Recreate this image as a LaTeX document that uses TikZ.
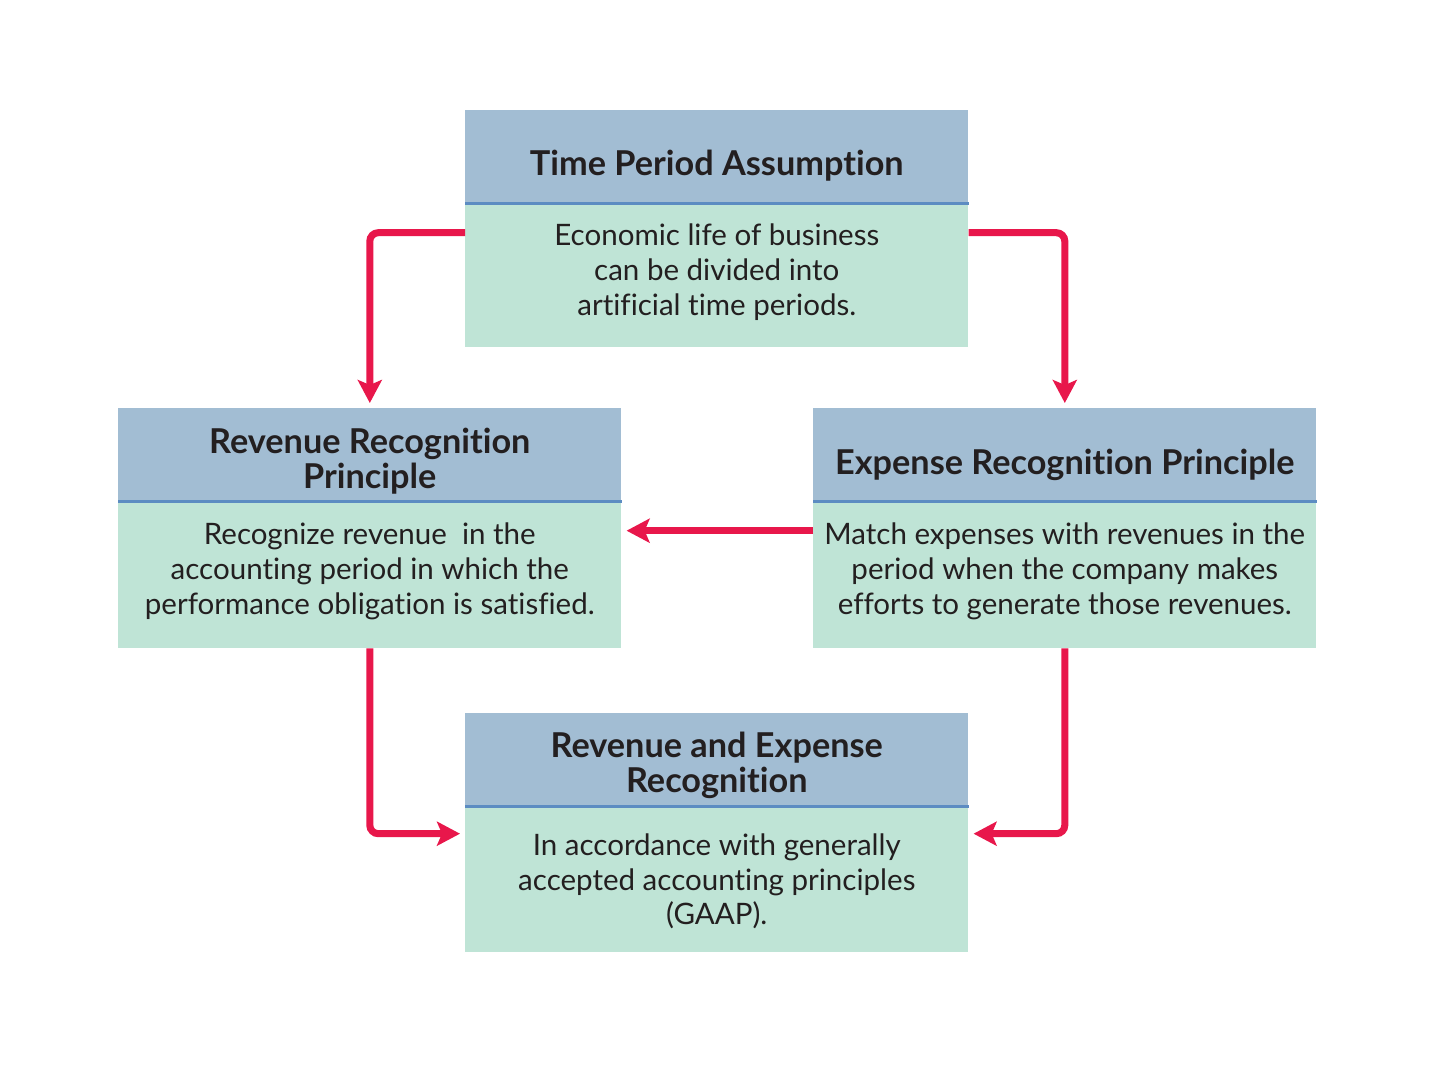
\documentclass[tikz,border=0pt]{standalone}
\usepackage{fontspec}
\setmainfont{Lato}[Ligatures=NoCommon]
\usetikzlibrary{arrows.meta,positioning,calc}
\definecolor{hdrc}{RGB}{162,189,211}
\definecolor{sepc}{RGB}{92,140,194}
\definecolor{bdyc}{RGB}{191,228,214}
\definecolor{arrc}{RGB}{232,23,75}
\definecolor{txtc}{RGB}{35,31,32}
\tikzset{
  hdr/.style={fill=hdrc, minimum width=10.06cm, minimum height=1.86cm, inner sep=0pt},
  bdy/.style={fill=bdyc, minimum width=10.06cm, minimum height=2.86cm, inner sep=0pt},
  hdrtxt/.style={align=center, text=txtc, inner sep=0pt, font=\fontsize{19.5}{19.8}\selectfont\bfseries},
  bdytxt/.style={align=center, text=txtc, inner sep=0pt, font=\fontsize{16.8}{19.8}\selectfont},
  sepline/.style={draw=sepc, line width=1.7pt},
  arr/.style={draw=arrc, line width=4pt, rounded corners=0.17cm,
    -{Stealth[length=0.46cm,width=0.48cm,inset=0.1cm]}, shorten >=0.1cm}
}
\begin{document}
\begin{tikzpicture}[x=0.02cm,y=-0.02cm]
\useasboundingbox (0,0) rectangle (1440,1080);
% top
\node[hdr, anchor=north west, label={[hdrtxt, yshift=-5pt]center:Time Period Assumption}] (th) at (465,110) {};
\node[bdy, below=0pt of th, minimum height=2.86cm, label={[bdytxt, yshift=2pt]center:Economic life of business\\can be divided into\\artificial time periods.}] (tb) {};
% left
\node[hdr, anchor=north west, label={[hdrtxt, yshift=-3.7pt]center:Revenue Recognition\\Principle}] (lh) at (118,408) {};
\node[bdy, below=0pt of lh, minimum height=2.92cm, label={[bdytxt, yshift=2pt]center:Recognize revenue~ in the\\accounting period in which the\\performance obligation is satisfied.}] (lb) {};
% right
\node[hdr, anchor=north west, label={[hdrtxt, yshift=-5.8pt]center:Expense Recognition Principle}] (rh) at (813,408) {};
\node[bdy, below=0pt of rh, minimum height=2.92cm, label={[bdytxt, yshift=2pt]center:Match expenses with revenues in the\\period when the company makes\\efforts to generate those revenues.}] (rb) {};
% bottom
\node[hdr, anchor=north west, label={[hdrtxt, yshift=-3pt]center:Revenue and Expense\\Recognition}] (bh) at (465,713) {};
\node[bdy, below=0pt of bh, minimum height=2.9cm, label={[bdytxt, yshift=-1pt]center:In accordance with generally\\accepted accounting principles\\(GAAP).}] (bb) {};
% separators
\foreach \n in {th,lh,rh,bh}{\draw[sepline] (\n.south west) -- (\n.south east);}
% connectors
\draw[arr] ([yshift=-0.58cm]tb.north west) -| (lh.north);
\draw[arr] ([yshift=-0.58cm]tb.north east) -| (rh.north);
\draw[arr] ([yshift=-0.58cm]rb.north west) -- ([yshift=-0.58cm]lb.north east);
\draw[arr] (lb.south) |- ([yshift=-0.54cm]bb.north west);
\draw[arr] (rb.south) |- ([yshift=-0.54cm]bb.north east);
\end{tikzpicture}
\end{document}
